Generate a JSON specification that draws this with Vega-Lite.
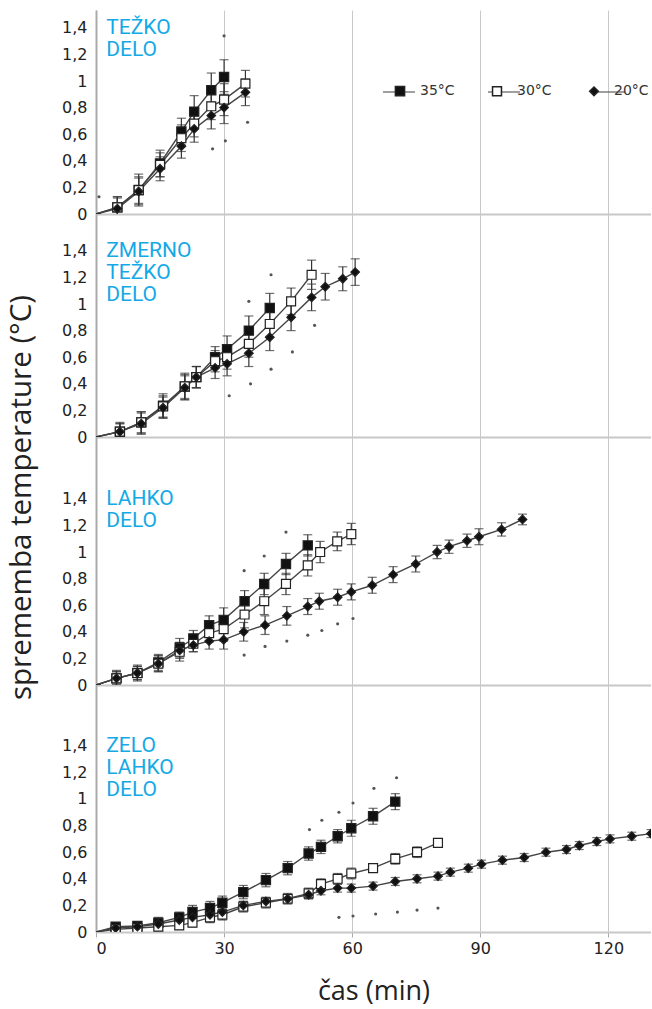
{
  "$schema": "https://vega.github.io/schema/vega-lite/v6.json",
  "padding": {"left": 5, "top": 10, "right": 0, "bottom": 0},
  "spacing": 0,
  "bounds": "flush",
  "resolve": {"scale": {"shape": "independent", "fill": "independent", "size": "independent", "stroke": "independent"}, "legend": {"shape": "independent", "fill": "independent", "size": "independent", "stroke": "independent"}},
  "config": {
    "view": {"stroke": null},
    "font": "DejaVu Sans",
    "axis": {"labelColor": "#222", "labelFont": "DejaVu Sans", "labelFontSize": 16, "labelOverlap": false},
    "text": {"align": "left", "baseline": "top", "font": "Roboto", "fontSize": 21, "lineHeight": 22, "color": "#14a9e6"}
  },
  "datasets": {
    "lab": [
      {"p":1,"lab":["TEŽKO","DELO"]},
      {"p":2,"lab":["ZMERNO","TEŽKO","DELO"]},
      {"p":3,"lab":["LAHKO","DELO"]},
      {"p":4,"lab":["ZELO","LAHKO","DELO"]}
    ],
    "d": [
      {"p":1,"s":"35°C","t":0,"v":0,"e":0},{"p":1,"s":"35°C","t":5,"v":0.05,"e":0.08},{"p":1,"s":"35°C","t":10,"v":0.18,"e":0.12},{"p":1,"s":"35°C","t":15,"v":0.38,"e":0.1},{"p":1,"s":"35°C","t":20,"v":0.62,"e":0.1},{"p":1,"s":"35°C","t":23,"v":0.77,"e":0.12},{"p":1,"s":"35°C","t":27,"v":0.93,"e":0.13},{"p":1,"s":"35°C","t":30,"v":1.03,"e":0.13},
      {"p":1,"s":"30°C","t":0,"v":0,"e":0},{"p":1,"s":"30°C","t":5,"v":0.05,"e":0.08},{"p":1,"s":"30°C","t":10,"v":0.18,"e":0.1},{"p":1,"s":"30°C","t":15,"v":0.37,"e":0.09},{"p":1,"s":"30°C","t":20,"v":0.57,"e":0.1},{"p":1,"s":"30°C","t":23,"v":0.68,"e":0.1},{"p":1,"s":"30°C","t":27,"v":0.81,"e":0.1},{"p":1,"s":"30°C","t":30,"v":0.86,"e":0.12},{"p":1,"s":"30°C","t":35,"v":0.98,"e":0.1},
      {"p":1,"s":"20°C","t":0,"v":0,"e":0},{"p":1,"s":"20°C","t":5,"v":0.04,"e":0.08},{"p":1,"s":"20°C","t":10,"v":0.17,"e":0.1},{"p":1,"s":"20°C","t":15,"v":0.34,"e":0.09},{"p":1,"s":"20°C","t":20,"v":0.51,"e":0.09},{"p":1,"s":"20°C","t":23,"v":0.64,"e":0.1},{"p":1,"s":"20°C","t":27,"v":0.74,"e":0.1},{"p":1,"s":"20°C","t":30,"v":0.8,"e":0.12},{"p":1,"s":"20°C","t":35,"v":0.915,"e":0.1},
      {"p":2,"s":"35°C","t":0,"v":0,"e":0},{"p":2,"s":"35°C","t":5.6,"v":0.04,"e":0.07},{"p":2,"s":"35°C","t":10.6,"v":0.11,"e":0.08},{"p":2,"s":"35°C","t":15.7,"v":0.235,"e":0.09},{"p":2,"s":"35°C","t":20.8,"v":0.38,"e":0.1},{"p":2,"s":"35°C","t":23.5,"v":0.45,"e":0.08},{"p":2,"s":"35°C","t":27.9,"v":0.6,"e":0.08},{"p":2,"s":"35°C","t":30.7,"v":0.66,"e":0.1},{"p":2,"s":"35°C","t":35.8,"v":0.8,"e":0.11},{"p":2,"s":"35°C","t":40.7,"v":0.97,"e":0.11},
      {"p":2,"s":"30°C","t":0,"v":0,"e":0},{"p":2,"s":"30°C","t":5.6,"v":0.04,"e":0.06},{"p":2,"s":"30°C","t":10.6,"v":0.11,"e":0.08},{"p":2,"s":"30°C","t":15.7,"v":0.23,"e":0.08},{"p":2,"s":"30°C","t":20.8,"v":0.38,"e":0.09},{"p":2,"s":"30°C","t":23.5,"v":0.45,"e":0.08},{"p":2,"s":"30°C","t":27.9,"v":0.57,"e":0.08},{"p":2,"s":"30°C","t":30.7,"v":0.6,"e":0.09},{"p":2,"s":"30°C","t":35.8,"v":0.7,"e":0.1},{"p":2,"s":"30°C","t":40.7,"v":0.85,"e":0.1},{"p":2,"s":"30°C","t":45.7,"v":1.02,"e":0.1},{"p":2,"s":"30°C","t":50.5,"v":1.22,"e":0.11},
      {"p":2,"s":"20°C","t":0,"v":0,"e":0},{"p":2,"s":"20°C","t":5.6,"v":0.04,"e":0.06},{"p":2,"s":"20°C","t":10.6,"v":0.1,"e":0.08},{"p":2,"s":"20°C","t":15.7,"v":0.22,"e":0.08},{"p":2,"s":"20°C","t":20.8,"v":0.37,"e":0.09},{"p":2,"s":"20°C","t":23.5,"v":0.45,"e":0.08},{"p":2,"s":"20°C","t":27.9,"v":0.52,"e":0.08},{"p":2,"s":"20°C","t":30.7,"v":0.55,"e":0.09},{"p":2,"s":"20°C","t":35.8,"v":0.63,"e":0.1},{"p":2,"s":"20°C","t":40.7,"v":0.75,"e":0.1},{"p":2,"s":"20°C","t":45.7,"v":0.9,"e":0.1},{"p":2,"s":"20°C","t":50.5,"v":1.05,"e":0.1},{"p":2,"s":"20°C","t":53.7,"v":1.13,"e":0.1},{"p":2,"s":"20°C","t":57.8,"v":1.19,"e":0.09},{"p":2,"s":"20°C","t":60.7,"v":1.24,"e":0.1},
      {"p":3,"s":"35°C","t":0,"v":0,"e":0},{"p":3,"s":"35°C","t":4.8,"v":0.05,"e":0.06},{"p":3,"s":"35°C","t":9.7,"v":0.09,"e":0.06},{"p":3,"s":"35°C","t":14.6,"v":0.17,"e":0.06},{"p":3,"s":"35°C","t":19.6,"v":0.28,"e":0.07},{"p":3,"s":"35°C","t":22.8,"v":0.35,"e":0.06},{"p":3,"s":"35°C","t":26.5,"v":0.45,"e":0.07},{"p":3,"s":"35°C","t":29.9,"v":0.49,"e":0.09},{"p":3,"s":"35°C","t":34.8,"v":0.63,"e":0.08},{"p":3,"s":"35°C","t":39.4,"v":0.76,"e":0.08},{"p":3,"s":"35°C","t":44.5,"v":0.91,"e":0.08},{"p":3,"s":"35°C","t":49.6,"v":1.05,"e":0.08},
      {"p":3,"s":"30°C","t":0,"v":0,"e":0},{"p":3,"s":"30°C","t":4.8,"v":0.05,"e":0.05},{"p":3,"s":"30°C","t":9.7,"v":0.09,"e":0.05},{"p":3,"s":"30°C","t":14.6,"v":0.16,"e":0.06},{"p":3,"s":"30°C","t":19.6,"v":0.25,"e":0.07},{"p":3,"s":"30°C","t":22.8,"v":0.31,"e":0.06},{"p":3,"s":"30°C","t":26.5,"v":0.39,"e":0.07},{"p":3,"s":"30°C","t":29.9,"v":0.42,"e":0.09},{"p":3,"s":"30°C","t":34.8,"v":0.53,"e":0.1},{"p":3,"s":"30°C","t":39.4,"v":0.63,"e":0.1},{"p":3,"s":"30°C","t":44.5,"v":0.76,"e":0.08},{"p":3,"s":"30°C","t":49.6,"v":0.9,"e":0.08},{"p":3,"s":"30°C","t":52.5,"v":1.0,"e":0.08},{"p":3,"s":"30°C","t":56.5,"v":1.08,"e":0.07},{"p":3,"s":"30°C","t":59.8,"v":1.135,"e":0.08},
      {"p":3,"s":"20°C","t":0,"v":0,"e":0},{"p":3,"s":"20°C","t":4.8,"v":0.05,"e":0.05},{"p":3,"s":"20°C","t":9.7,"v":0.09,"e":0.05},{"p":3,"s":"20°C","t":14.6,"v":0.16,"e":0.06},{"p":3,"s":"20°C","t":19.6,"v":0.26,"e":0.06},{"p":3,"s":"20°C","t":22.8,"v":0.3,"e":0.05},{"p":3,"s":"20°C","t":26.5,"v":0.33,"e":0.06},{"p":3,"s":"20°C","t":29.9,"v":0.34,"e":0.07},{"p":3,"s":"20°C","t":34.6,"v":0.4,"e":0.07},{"p":3,"s":"20°C","t":39.6,"v":0.45,"e":0.07},{"p":3,"s":"20°C","t":44.7,"v":0.52,"e":0.07},{"p":3,"s":"20°C","t":49.6,"v":0.59,"e":0.06},{"p":3,"s":"20°C","t":52.3,"v":0.63,"e":0.06},{"p":3,"s":"20°C","t":56.6,"v":0.66,"e":0.06},{"p":3,"s":"20°C","t":59.8,"v":0.7,"e":0.06},{"p":3,"s":"20°C","t":64.7,"v":0.75,"e":0.06},{"p":3,"s":"20°C","t":69.6,"v":0.83,"e":0.06},{"p":3,"s":"20°C","t":74.9,"v":0.91,"e":0.06},{"p":3,"s":"20°C","t":79.9,"v":1.0,"e":0.05},{"p":3,"s":"20°C","t":82.7,"v":1.04,"e":0.05},{"p":3,"s":"20°C","t":86.9,"v":1.085,"e":0.05},{"p":3,"s":"20°C","t":89.7,"v":1.115,"e":0.06},{"p":3,"s":"20°C","t":95,"v":1.17,"e":0.05},{"p":3,"s":"20°C","t":99.9,"v":1.245,"e":0.04},
      {"p":4,"s":"35°C","t":0,"v":0,"e":0},{"p":4,"s":"35°C","t":4.6,"v":0.04,"e":0.03},{"p":4,"s":"35°C","t":9.7,"v":0.045,"e":0.03},{"p":4,"s":"35°C","t":14.6,"v":0.07,"e":0.04},{"p":4,"s":"35°C","t":19.5,"v":0.11,"e":0.04},{"p":4,"s":"35°C","t":22.6,"v":0.15,"e":0.05},{"p":4,"s":"35°C","t":26.7,"v":0.18,"e":0.05},{"p":4,"s":"35°C","t":29.6,"v":0.22,"e":0.05},{"p":4,"s":"35°C","t":34.5,"v":0.3,"e":0.05},{"p":4,"s":"35°C","t":39.8,"v":0.39,"e":0.05},{"p":4,"s":"35°C","t":44.9,"v":0.48,"e":0.05},{"p":4,"s":"35°C","t":49.8,"v":0.59,"e":0.05},{"p":4,"s":"35°C","t":52.7,"v":0.64,"e":0.05},{"p":4,"s":"35°C","t":56.6,"v":0.72,"e":0.05},{"p":4,"s":"35°C","t":59.8,"v":0.78,"e":0.06},{"p":4,"s":"35°C","t":64.9,"v":0.87,"e":0.06},{"p":4,"s":"35°C","t":70.1,"v":0.98,"e":0.06},
      {"p":4,"s":"30°C","t":0,"v":0,"e":0},{"p":4,"s":"30°C","t":4.6,"v":0.02,"e":0.02},{"p":4,"s":"30°C","t":9.7,"v":0.03,"e":0.02},{"p":4,"s":"30°C","t":14.6,"v":0.04,"e":0.03},{"p":4,"s":"30°C","t":19.5,"v":0.05,"e":0.03},{"p":4,"s":"30°C","t":22.6,"v":0.07,"e":0.03},{"p":4,"s":"30°C","t":26.7,"v":0.11,"e":0.04},{"p":4,"s":"30°C","t":29.6,"v":0.13,"e":0.04},{"p":4,"s":"30°C","t":34.5,"v":0.19,"e":0.04},{"p":4,"s":"30°C","t":39.8,"v":0.22,"e":0.04},{"p":4,"s":"30°C","t":44.9,"v":0.25,"e":0.04},{"p":4,"s":"30°C","t":49.8,"v":0.29,"e":0.04},{"p":4,"s":"30°C","t":52.7,"v":0.36,"e":0.04},{"p":4,"s":"30°C","t":56.6,"v":0.4,"e":0.04},{"p":4,"s":"30°C","t":59.8,"v":0.44,"e":0.04},{"p":4,"s":"30°C","t":64.9,"v":0.48,"e":0.03},{"p":4,"s":"30°C","t":70.1,"v":0.55,"e":0.04},{"p":4,"s":"30°C","t":75.2,"v":0.6,"e":0.04},{"p":4,"s":"30°C","t":80.1,"v":0.67,"e":0.03},
      {"p":4,"s":"20°C","t":0,"v":0,"e":0},{"p":4,"s":"20°C","t":4.6,"v":0.03,"e":0.02},{"p":4,"s":"20°C","t":9.7,"v":0.04,"e":0.02},{"p":4,"s":"20°C","t":14.6,"v":0.06,"e":0.03},{"p":4,"s":"20°C","t":19.5,"v":0.09,"e":0.03},{"p":4,"s":"20°C","t":22.6,"v":0.11,"e":0.03},{"p":4,"s":"20°C","t":26.7,"v":0.13,"e":0.03},{"p":4,"s":"20°C","t":29.6,"v":0.15,"e":0.03},{"p":4,"s":"20°C","t":34.5,"v":0.2,"e":0.03},{"p":4,"s":"20°C","t":39.8,"v":0.23,"e":0.03},{"p":4,"s":"20°C","t":44.9,"v":0.25,"e":0.03},{"p":4,"s":"20°C","t":49.8,"v":0.28,"e":0.03},{"p":4,"s":"20°C","t":52.7,"v":0.31,"e":0.03},{"p":4,"s":"20°C","t":56.6,"v":0.33,"e":0.03},{"p":4,"s":"20°C","t":59.8,"v":0.33,"e":0.03},{"p":4,"s":"20°C","t":64.9,"v":0.345,"e":0.03},{"p":4,"s":"20°C","t":70.1,"v":0.38,"e":0.03},{"p":4,"s":"20°C","t":75.2,"v":0.4,"e":0.03},{"p":4,"s":"20°C","t":80.1,"v":0.42,"e":0.03},{"p":4,"s":"20°C","t":83,"v":0.45,"e":0.03},{"p":4,"s":"20°C","t":87.2,"v":0.48,"e":0.03},{"p":4,"s":"20°C","t":90.3,"v":0.51,"e":0.03},{"p":4,"s":"20°C","t":95.2,"v":0.54,"e":0.03},{"p":4,"s":"20°C","t":100.3,"v":0.56,"e":0.03},{"p":4,"s":"20°C","t":105.4,"v":0.6,"e":0.03},{"p":4,"s":"20°C","t":110.2,"v":0.62,"e":0.03},{"p":4,"s":"20°C","t":113.2,"v":0.65,"e":0.03},{"p":4,"s":"20°C","t":117.3,"v":0.68,"e":0.03},{"p":4,"s":"20°C","t":120.4,"v":0.7,"e":0.03},{"p":4,"s":"20°C","t":125.5,"v":0.72,"e":0.03},{"p":4,"s":"20°C","t":130,"v":0.74,"e":0.03}
    ],
    "o": [
      {"p":1,"t":0.7,"v":0.13},{"p":1,"t":30,"v":1.34},{"p":1,"t":27.3,"v":0.49},{"p":1,"t":30.3,"v":0.55},{"p":1,"t":35.5,"v":0.69},
      {"p":2,"t":35.8,"v":1.02},{"p":2,"t":41,"v":1.22},{"p":2,"t":51.2,"v":0.84},{"p":2,"t":46,"v":0.64},{"p":2,"t":41,"v":0.51},{"p":2,"t":36.2,"v":0.4},{"p":2,"t":31.2,"v":0.31},
      {"p":3,"t":34.7,"v":0.86},{"p":3,"t":39.4,"v":0.97},{"p":3,"t":44.5,"v":1.15},{"p":3,"t":34.7,"v":0.225},{"p":3,"t":39.6,"v":0.29},{"p":3,"t":44.7,"v":0.33},{"p":3,"t":49.6,"v":0.375},{"p":3,"t":52.9,"v":0.41},{"p":3,"t":56.6,"v":0.46},{"p":3,"t":60.2,"v":0.5},
      {"p":4,"t":56.9,"v":0.9},{"p":4,"t":60.2,"v":0.97},{"p":4,"t":65.1,"v":1.08},{"p":4,"t":70.4,"v":1.16},{"p":4,"t":50,"v":0.77},{"p":4,"t":52.9,"v":0.84},{"p":4,"t":56.9,"v":0.11},{"p":4,"t":60.2,"v":0.12},{"p":4,"t":65.5,"v":0.135},{"p":4,"t":70.6,"v":0.15},{"p":4,"t":75.2,"v":0.165},{"p":4,"t":80.1,"v":0.18}
    ]
  },
  "vconcat": [
    {
      "width": 555, "height": 204,
      "data": {"name": "d"},
      "transform": [{"filter": "datum.p == 1"}],
      "layer": [
        {"mark": {"type": "line", "strokeWidth": 1.4, "clip": true},
         "encoding": {
           "x": {"field": "t", "type": "quantitative", "title": null, "scale": {"domain": [0, 130], "nice": false}, "axis": {"values": [0, 30, 60, 90, 120], "labels": false, "ticks": false, "grid": true, "gridColor": "#c8c8c8", "domainColor": "#c8c8c8", "domainWidth": 2}},
           "y": {"field": "v", "type": "quantitative", "title": null, "scale": {"domain": [0, 1.534], "nice": false}, "axis": {"values": [0, 0.2, 0.4, 0.6, 0.8, 1, 1.2, 1.4], "tickCount": 12, "labelOverlap": false, "labelExpr": "replace(format(datum.value, '.1~f'), '.', ',')", "grid": false, "ticks": false, "domainColor": "#aaa", "domainWidth": 2, "labelPadding": 9}},
           "stroke": {"field": "s", "type": "nominal", "title": null, "scale": {"domain": ["35°C", "30°C", "20°C", " "], "range": ["#444", "#444", "#444", "#444"]},
             "legend": {"orient": "none", "values": ["35°C", "30°C", "20°C"], "legendX": 286, "legendY": 65, "zindex": 1, "direction": "horizontal", "symbolType": "stroke", "symbolSize": 1024, "symbolStrokeWidth": 2, "symbolOpacity": 0.5, "labelExpr": "''", "labelOffset": 0, "columnPadding": 65, "labelFontSize": 14, "labelFont": "DejaVu Sans"}}}},
        {"mark": {"type": "errorbar", "clip": true, "ticks": {"size": 9, "color": "#333", "thickness": 1.2}, "rule": {"color": "#333", "strokeWidth": 1.2}},
         "encoding": {"x": {"field": "t", "type": "quantitative", "title": null}, "y": {"field": "v", "type": "quantitative", "title": null}, "yError": {"field": "e"}}},
        {"data": {"name": "o"}, "transform": [{"filter": "datum.p == 1"}],
         "mark": {"type": "point", "filled": true, "shape": "circle", "size": 10, "color": "#555", "opacity": 1, "clip": true},
         "encoding": {"x": {"field": "t", "type": "quantitative", "title": null}, "y": {"field": "v", "type": "quantitative", "title": null}}},
        {"transform": [{"filter": "datum.t > 0"}],
         "mark": {"type": "point", "opacity": 1, "stroke": "#222", "strokeWidth": 1.2, "clip": true},
         "encoding": {
           "x": {"field": "t", "type": "quantitative", "title": null},
           "y": {"field": "v", "type": "quantitative", "title": null},
           "shape": {"field": "s", "type": "nominal", "title": null, "scale": {"domain": ["35°C", "30°C", "20°C"], "range": ["square", "square", "diamond"]},
             "legend": {"orient": "none", "legendX": 297, "legendY": 74, "zindex": 2, "direction": "horizontal", "labelOffset": 13, "columnPadding": 34, "labelFontSize": 14, "labelFont": "DejaVu Sans", "labelColor": "#333"}},
           "fill": {"field": "s", "type": "nominal", "title": null, "scale": {"domain": ["35°C", "30°C", "20°C"], "range": ["#111", "#fff", "#111"]}},
           "size": {"field": "s", "type": "nominal", "title": null, "scale": {"domain": ["35°C", "30°C", "20°C"], "range": [85, 75, 45]}}}},
        {"data": {"name": "lab"}, "transform": [{"filter": "datum.p == 1"}],
         "mark": {"type": "text"},
         "encoding": {"text": {"field": "lab"}, "x": {"datum": 2.4, "type": "quantitative"}, "y": {"datum": 1.48, "type": "quantitative"}}}
      ]
    },
    {
      "width": 555, "height": 223,
      "data": {"name": "d"},
      "transform": [{"filter": "datum.p == 2"}],
      "layer": [
        {"mark": {"type": "line", "color": "#444", "strokeWidth": 1.4, "clip": true},
         "encoding": {
           "x": {"field": "t", "type": "quantitative", "title": null, "scale": {"domain": [0, 130], "nice": false}, "axis": {"values": [0, 30, 60, 90, 120], "labels": false, "ticks": false, "grid": true, "gridColor": "#c8c8c8", "domainColor": "#c8c8c8", "domainWidth": 2}},
           "y": {"field": "v", "type": "quantitative", "title": null, "scale": {"domain": [0, 1.677], "nice": false}, "axis": {"values": [0, 0.2, 0.4, 0.6, 0.8, 1, 1.2, 1.4], "tickCount": 12, "labelOverlap": false, "labelExpr": "replace(format(datum.value, '.1~f'), '.', ',')", "grid": false, "ticks": false, "domainColor": "#aaa", "domainWidth": 2, "labelPadding": 9}},
           "detail": {"field": "s"}}},
        {"mark": {"type": "errorbar", "clip": true, "ticks": {"size": 9, "color": "#333", "thickness": 1.2}, "rule": {"color": "#333", "strokeWidth": 1.2}},
         "encoding": {"x": {"field": "t", "type": "quantitative", "title": null}, "y": {"field": "v", "type": "quantitative", "title": null}, "yError": {"field": "e"}}},
        {"data": {"name": "o"}, "transform": [{"filter": "datum.p == 2"}],
         "mark": {"type": "point", "filled": true, "shape": "circle", "size": 10, "color": "#555", "opacity": 1, "clip": true},
         "encoding": {"x": {"field": "t", "type": "quantitative", "title": null}, "y": {"field": "v", "type": "quantitative", "title": null}}},
        {"transform": [{"filter": "datum.t > 0"}],
         "mark": {"type": "point", "opacity": 1, "stroke": "#222", "strokeWidth": 1.2, "clip": true},
         "encoding": {
           "x": {"field": "t", "type": "quantitative", "title": null},
           "y": {"field": "v", "type": "quantitative", "title": null},
           "shape": {"field": "s", "type": "nominal", "scale": {"domain": ["35°C", "30°C", "20°C"], "range": ["square", "square", "diamond"]}, "legend": null},
           "fill": {"field": "s", "type": "nominal", "scale": {"domain": ["35°C", "30°C", "20°C"], "range": ["#111", "#fff", "#111"]}, "legend": null},
           "size": {"field": "s", "type": "nominal", "scale": {"domain": ["35°C", "30°C", "20°C"], "range": [85, 75, 45]}, "legend": null}}},
        {"data": {"name": "lab"}, "transform": [{"filter": "datum.p == 2"}],
         "mark": {"type": "text"},
         "encoding": {"text": {"field": "lab"}, "x": {"datum": 2.4, "type": "quantitative"}, "y": {"datum": 1.48, "type": "quantitative"}}}
      ]
    },
    {
      "width": 555, "height": 248,
      "data": {"name": "d"},
      "transform": [{"filter": "datum.p == 3"}],
      "layer": [
        {"mark": {"type": "line", "color": "#444", "strokeWidth": 1.4, "clip": true},
         "encoding": {
           "x": {"field": "t", "type": "quantitative", "title": null, "scale": {"domain": [0, 130], "nice": false}, "axis": {"values": [0, 30, 60, 90, 120], "labels": false, "ticks": false, "grid": true, "gridColor": "#c8c8c8", "domainColor": "#c8c8c8", "domainWidth": 2}},
           "y": {"field": "v", "type": "quantitative", "title": "sprememba temperature (°C)", "scale": {"domain": [0, 1.865], "nice": false}, "axis": {"values": [0, 0.2, 0.4, 0.6, 0.8, 1, 1.2, 1.4], "tickCount": 12, "labelOverlap": false, "labelExpr": "replace(format(datum.value, '.1~f'), '.', ',')", "titleX": -75, "titleY": 60, "titleAngle": -90, "titleAlign": "center", "titleBaseline": "middle", "titleFont": "Open Sans", "titleFontSize": 29.5, "titleFontWeight": "normal", "titleColor": "#222", "grid": false, "ticks": false, "domainColor": "#aaa", "domainWidth": 2, "labelPadding": 9}},
           "detail": {"field": "s"}}},
        {"mark": {"type": "errorbar", "clip": true, "ticks": {"size": 9, "color": "#333", "thickness": 1.2}, "rule": {"color": "#333", "strokeWidth": 1.2}},
         "encoding": {"x": {"field": "t", "type": "quantitative", "title": null}, "y": {"field": "v", "type": "quantitative", "title": "sprememba temperature (°C)"}, "yError": {"field": "e"}}},
        {"data": {"name": "o"}, "transform": [{"filter": "datum.p == 3"}],
         "mark": {"type": "point", "filled": true, "shape": "circle", "size": 10, "color": "#555", "opacity": 1, "clip": true},
         "encoding": {"x": {"field": "t", "type": "quantitative", "title": null}, "y": {"field": "v", "type": "quantitative", "title": "sprememba temperature (°C)"}}},
        {"transform": [{"filter": "datum.t > 0"}],
         "mark": {"type": "point", "opacity": 1, "stroke": "#222", "strokeWidth": 1.2, "clip": true},
         "encoding": {
           "x": {"field": "t", "type": "quantitative", "title": null},
           "y": {"field": "v", "type": "quantitative", "title": "sprememba temperature (°C)"},
           "shape": {"field": "s", "type": "nominal", "scale": {"domain": ["35°C", "30°C", "20°C"], "range": ["square", "square", "diamond"]}, "legend": null},
           "fill": {"field": "s", "type": "nominal", "scale": {"domain": ["35°C", "30°C", "20°C"], "range": ["#111", "#fff", "#111"]}, "legend": null},
           "size": {"field": "s", "type": "nominal", "scale": {"domain": ["35°C", "30°C", "20°C"], "range": [85, 75, 45]}, "legend": null}}},
        {"data": {"name": "lab"}, "transform": [{"filter": "datum.p == 3"}],
         "mark": {"type": "text"},
         "encoding": {"text": {"field": "lab"}, "x": {"datum": 2.4, "type": "quantitative"}, "y": {"datum": 1.48, "type": "quantitative"}}}
      ]
    },
    {
      "width": 555, "height": 247,
      "data": {"name": "d"},
      "transform": [{"filter": "datum.p == 4"}],
      "layer": [
        {"mark": {"type": "line", "color": "#444", "strokeWidth": 1.4, "clip": true},
         "encoding": {
           "x": {"field": "t", "type": "quantitative", "title": "čas (min)", "scale": {"domain": [0, 130], "nice": false}, "axis": {"values": [0, 30, 60, 90, 120], "titleFont": "Open Sans", "titleFontSize": 27, "titleFontWeight": "normal", "titleColor": "#222", "titlePadding": 22, "grid": true, "gridColor": "#c8c8c8", "domainColor": "#c8c8c8", "domainWidth": 2, "ticks": true, "tickColor": "#aaa", "tickSize": 5, "labelPadding": 3}},
           "y": {"field": "v", "type": "quantitative", "title": null, "scale": {"domain": [0, 1.857], "nice": false}, "axis": {"values": [0, 0.2, 0.4, 0.6, 0.8, 1, 1.2, 1.4], "tickCount": 12, "labelOverlap": false, "labelExpr": "replace(format(datum.value, '.1~f'), '.', ',')", "grid": false, "ticks": false, "domainColor": "#aaa", "domainWidth": 2, "labelPadding": 9}},
           "detail": {"field": "s"}}},
        {"mark": {"type": "errorbar", "clip": true, "ticks": {"size": 9, "color": "#333", "thickness": 1.2}, "rule": {"color": "#333", "strokeWidth": 1.2}},
         "encoding": {"x": {"field": "t", "type": "quantitative", "title": "čas (min)"}, "y": {"field": "v", "type": "quantitative", "title": null}, "yError": {"field": "e"}}},
        {"data": {"name": "o"}, "transform": [{"filter": "datum.p == 4"}],
         "mark": {"type": "point", "filled": true, "shape": "circle", "size": 10, "color": "#555", "opacity": 1, "clip": true},
         "encoding": {"x": {"field": "t", "type": "quantitative", "title": "čas (min)"}, "y": {"field": "v", "type": "quantitative", "title": null}}},
        {"transform": [{"filter": "datum.t > 0"}],
         "mark": {"type": "point", "opacity": 1, "stroke": "#222", "strokeWidth": 1.2, "clip": true},
         "encoding": {
           "x": {"field": "t", "type": "quantitative", "title": "čas (min)"},
           "y": {"field": "v", "type": "quantitative", "title": null},
           "shape": {"field": "s", "type": "nominal", "scale": {"domain": ["35°C", "30°C", "20°C"], "range": ["square", "square", "diamond"]}, "legend": null},
           "fill": {"field": "s", "type": "nominal", "scale": {"domain": ["35°C", "30°C", "20°C"], "range": ["#111", "#fff", "#111"]}, "legend": null},
           "size": {"field": "s", "type": "nominal", "scale": {"domain": ["35°C", "30°C", "20°C"], "range": [85, 75, 45]}, "legend": null}}},
        {"data": {"name": "lab"}, "transform": [{"filter": "datum.p == 4"}],
         "mark": {"type": "text"},
         "encoding": {"text": {"field": "lab"}, "x": {"datum": 2.4, "type": "quantitative"}, "y": {"datum": 1.48, "type": "quantitative"}}}
      ]
    }
  ]
}
